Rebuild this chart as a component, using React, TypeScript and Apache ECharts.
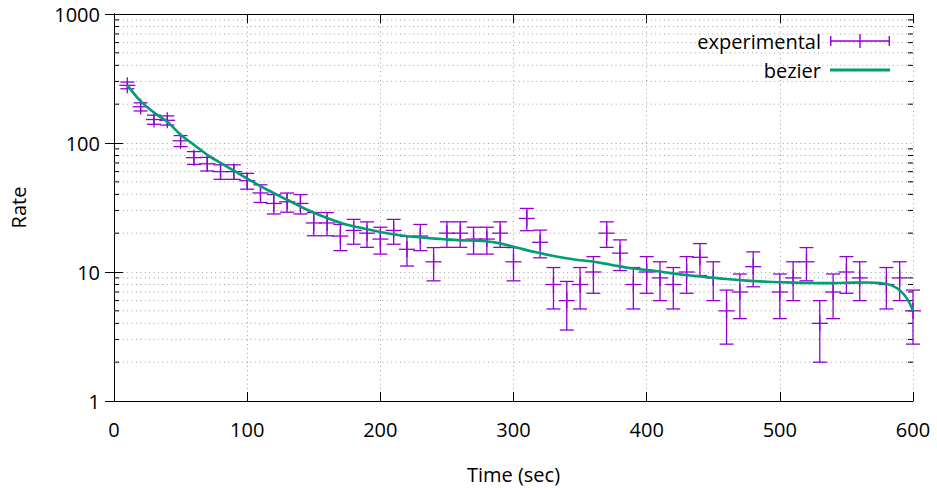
import React, { useEffect, useRef } from "react";
import * as echarts from "echarts";

const FONT = "'Open Sans', 'Noto Sans', sans-serif";
const FS = 20;
const PURPLE = "#9400d3";
const GREEN = "#009e73";

// experimental data: time (sec), rate, error
const times = [
  10, 20, 30, 40, 50, 60, 70, 80, 90, 100,
  110, 120, 130, 140, 150, 160, 170, 180, 190, 200,
  210, 220, 230, 240, 250, 260, 270, 280, 290, 300,
  310, 320, 330, 340, 350, 360, 370, 380, 390, 400,
  410, 420, 430, 440, 450, 460, 470, 480,
  500, 510, 520, 530, 540, 550, 560,
  580, 590, 600,
];
const rates = [
  280, 191, 152, 150, 104, 77, 69, 60, 60, 51,
  41, 34, 35, 34, 24, 24, 19, 21, 20, 18,
  21, 15, 19, 12, 20, 20, 18, 18, 20, 12,
  26, 17, 8, 6, 8, 10, 20, 14, 8, 10,
  9, 8, 10, 13, 9, 5, 7, 11,
  7, 9, 12, 4, 7, 10, 9,
  8, 9, 5,
];
const errors = [
  16.73, 13.82, 12.33, 12.25, 10.2, 8.77, 8.31, 7.75, 7.75, 7.14,
  6.4, 5.83, 5.92, 5.83, 4.9, 4.9, 4.36, 4.58, 4.47, 4.24,
  4.58, 3.87, 4.36, 3.46, 4.47, 4.47, 4.24, 4.24, 4.47, 3.46,
  5.1, 4.12, 2.83, 2.45, 2.83, 3.16, 4.47, 3.74, 2.83, 3.16,
  3.0, 2.83, 3.16, 3.61, 3.0, 2.24, 2.65, 3.32,
  2.65, 3.0, 3.46, 2.0, 2.65, 3.16, 3.0,
  2.83, 3.0, 2.24,
];

// bezier curve
const bezierTimes = [
  10, 20, 30, 40, 50, 60, 70, 80, 90, 100, 115, 130, 145, 160, 175, 186, 201,
  216, 231, 246, 261, 272, 287, 302, 317, 332, 347, 358, 373, 388, 403, 418,
  433, 445, 460, 475, 490, 505, 520, 535, 550, 565, 576, 584, 591, 596, 600,
];
const bezierRates = [
  281, 211, 172, 146, 116, 97, 81, 70, 61, 53, 43.4, 36.3, 30.4, 26.2, 23.2,
  21.9, 20.3, 19.2, 18.5, 18.0, 17.6, 17.5, 16.9, 15.5, 14.2, 13.2, 12.45,
  12.1, 11.4, 10.7, 10.3, 9.8, 9.4, 9.15, 8.83, 8.57, 8.41, 8.31, 8.22, 8.2,
  8.25, 8.3, 8.2, 7.87, 7.08, 6.1, 5,
];

const xTicks = { min: 0, max: 600, interval: 100 };
const yMajor = { min: 1, max: 1000 };
const yMinorTicks = [
  2, 3, 4, 5, 6, 7, 8, 9,
  20, 30, 40, 50, 60, 70, 80, 90,
  200, 300, 400, 500, 600, 700, 800, 900,
];

const gridLine = { color: "#a0a0a0", width: 1, type: [1, 3.4] as any };

export default function App() {
  const ref = useRef<HTMLDivElement>(null);
  useEffect(() => {
    const chart = echarts.init(ref.current!, null, { renderer: "svg" });
    const errData = times.map((t, i) => [
      t,
      rates[i],
      rates[i] - errors[i],
      rates[i] + errors[i],
    ]);
    const bezData = bezierTimes.map((t, i) => [t, bezierRates[i]]);
    const minorData = yMinorTicks.map((v) => [0, v]);

    const axisLine = { show: true, lineStyle: { color: "#000", width: 1 } };
    const legendText = {
      fontSize: FS,
      fontFamily: FONT,
      color: "#000",
      lineHeight: 22,
      padding: [0, 4, 0, 0],
    };
    const option: any = {
      animation: false,
      backgroundColor: "#fff",
      textStyle: { fontFamily: FONT },
      grid: { left: 111, right: 24, top: 14, bottom: 89, containLabel: false },
      legend: [
        {
          data: [
            {
              name: "experimental",
              icon:
                "path://M0,6.3h60v1.4H0z M0,2h1.4v10H0z M29.3,0h1.4v14h-1.4z M58.6,2h1.4v10h-1.4z",
            },
          ],
          right: 47,
          top: 30,
          padding: 0,
          align: "right",
          itemWidth: 60,
          itemHeight: 14,
          selectedMode: false,
          itemStyle: { color: PURPLE },
          textStyle: legendText,
        },
        {
          data: [{ name: "bezier", icon: "path://M0,0h60v3H0z" }],
          right: 47,
          top: 59,
          padding: 0,
          align: "right",
          itemWidth: 60,
          itemHeight: 3,
          selectedMode: false,
          itemStyle: { color: GREEN },
          textStyle: legendText,
        },
      ],
      xAxis: [
        {
          type: "value",
          position: "bottom",
          ...xTicks,
          name: "Time (sec)",
          nameLocation: "middle",
          nameGap: 63,
          nameTextStyle: { fontSize: FS, fontFamily: FONT, color: "#000" },
          axisLine,
          axisTick: { show: true, inside: true, length: 9, lineStyle: { color: "#000" } },
          axisLabel: { fontSize: FS, fontFamily: FONT, color: "#000", margin: 18 },
          splitLine: { show: true, lineStyle: gridLine },
        },
        {
          type: "value",
          position: "top",
          ...xTicks,
          axisLine,
          axisTick: { show: true, inside: true, length: 9, lineStyle: { color: "#000" } },
          axisLabel: { show: false },
          splitLine: { show: false },
        },
      ],
      yAxis: [
        {
          type: "log",
          logBase: 10,
          position: "left",
          ...yMajor,
          name: "Rate",
          nameLocation: "middle",
          nameGap: 86,
          nameTextStyle: { fontSize: FS, fontFamily: FONT, color: "#000" },
          axisLine,
          axisTick: { show: true, inside: true, length: 9, lineStyle: { color: "#000" } },
          axisLabel: {
            fontSize: FS,
            fontFamily: FONT,
            color: "#000",
            margin: 14,
            formatter: (v: number) => String(v),
          },
          splitLine: { show: true, lineStyle: gridLine },
        },
        {
          type: "log",
          logBase: 10,
          position: "right",
          ...yMajor,
          axisLine,
          axisTick: { show: true, inside: true, length: 9, lineStyle: { color: "#000" } },
          axisLabel: { show: false },
          splitLine: { show: false },
        },
      ],
      series: [
        {
          name: "minor",
          type: "custom",
          silent: true,
          z: 1,
          clip: false,
          data: minorData,
          renderItem: (params: any, api: any) => {
            const p = api.coord([0, api.value(1)]);
            const cs = params.coordSys;
            const y = p[1];
            return {
              type: "group",
              children: [
                {
                  type: "line",
                  shape: { x1: cs.x, y1: y, x2: cs.x + cs.width, y2: y },
                  style: { stroke: "#a0a0a0", lineWidth: 1, lineDash: [1, 3.4] },
                },
                {
                  type: "line",
                  shape: { x1: cs.x, y1: y, x2: cs.x + 5, y2: y },
                  style: { stroke: "#000", lineWidth: 1 },
                },
                {
                  type: "line",
                  shape: { x1: cs.x + cs.width - 5, y1: y, x2: cs.x + cs.width, y2: y },
                  style: { stroke: "#000", lineWidth: 1 },
                },
              ],
            };
          },
        },
        {
          name: "experimental",
          type: "custom",
          z: 2,
          clip: false,
          itemStyle: { color: PURPLE },
          data: errData,
          renderItem: (params: any, api: any) => {
            const c = api.coord([api.value(0), api.value(1)]);
            const lo = api.coord([api.value(0), api.value(2)]);
            const hi = api.coord([api.value(0), api.value(3)]);
            const st = { stroke: PURPLE, lineWidth: 1.3 };
            const cap = 7;
            const arm = 8;
            return {
              type: "group",
              children: [
                { type: "line", shape: { x1: c[0], y1: hi[1], x2: c[0], y2: lo[1] }, style: st },
                { type: "line", shape: { x1: c[0] - cap, y1: hi[1], x2: c[0] + cap, y2: hi[1] }, style: st },
                { type: "line", shape: { x1: c[0] - cap, y1: lo[1], x2: c[0] + cap, y2: lo[1] }, style: st },
                { type: "line", shape: { x1: c[0] - arm, y1: c[1], x2: c[0] + arm, y2: c[1] }, style: st },
                { type: "line", shape: { x1: c[0], y1: c[1] - arm, x2: c[0], y2: c[1] + arm }, style: st },
              ],
            };
          },
        },
        {
          name: "bezier",
          type: "line",
          z: 3,
          data: bezData,
          showSymbol: false,
          smooth: 0.4,
          clip: false,
          itemStyle: { color: GREEN },
          lineStyle: { color: GREEN, width: 2.6 },
        },
      ],
    };
    chart.setOption(option);
    return () => chart.dispose();
  }, []);
  return (
    <div
      ref={ref}
      style={{ position: "fixed", left: 0, top: 0, width: 937, height: 490, background: "#fff" }}
    />
  );
}
